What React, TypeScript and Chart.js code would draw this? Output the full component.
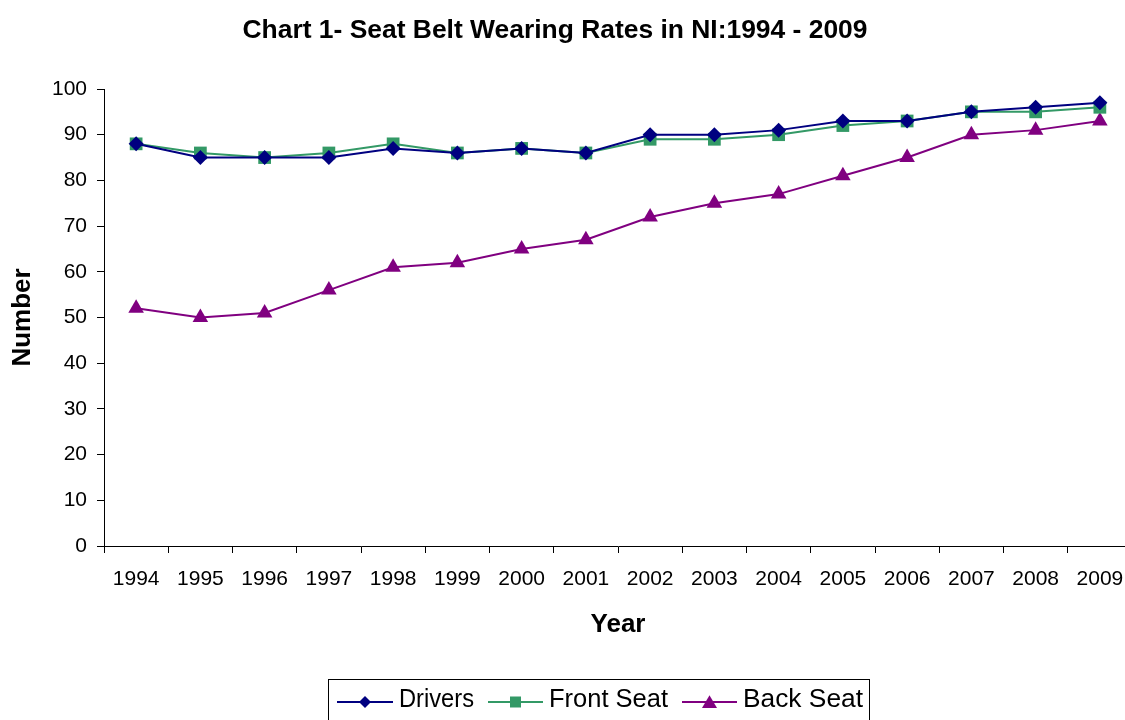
import React, { useEffect, useRef } from "react";
import { Chart, registerables } from "chart.js";

Chart.register(...registerables);

const years = ["1994","1995","1996","1997","1998","1999","2000","2001","2002","2003","2004","2005","2006","2007","2008","2009"];
const drivers = [88, 85, 85, 85, 87, 86, 87, 86, 90, 90, 91, 93, 93, 95, 96, 97];
const frontSeat = [88, 86, 85, 86, 88, 86, 87, 86, 89, 89, 90, 92, 93, 95, 95, 96];
const backSeat = [52, 50, 51, 56, 61, 62, 65, 67, 72, 75, 77, 81, 85, 90, 91, 93];
const yTicks = [0, 10, 20, 30, 40, 50, 60, 70, 80, 90, 100];

const titleText = "Chart 1- Seat Belt Wearing Rates in NI:1994 - 2009";
const FONT = "'Liberation Sans', Arial, sans-serif";

const NAVY = "#000080";
const GREEN = "#339966";
const PURPLE = "#800080";

function drawMarker(ctx: CanvasRenderingContext2D, style: string, x: number, y: number, r: number, color: string) {
  ctx.save();
  ctx.fillStyle = color;
  ctx.beginPath();
  if (style === "rectRot") {
    ctx.moveTo(x, y - r);
    ctx.lineTo(x + r, y);
    ctx.lineTo(x, y + r);
    ctx.lineTo(x - r, y);
  } else if (style === "rect") {
    ctx.rect(x - r, y - r, 2 * r, 2 * r);
  } else {
    ctx.moveTo(x, y - r * 0.9);
    ctx.lineTo(x + r, y + r * 0.8);
    ctx.lineTo(x - r, y + r * 0.8);
  }
  ctx.closePath();
  ctx.fill();
  ctx.restore();
}

function fitText(ctx: CanvasRenderingContext2D, text: string, x: number, y: number, target: number, align: "left" | "center") {
  const w = ctx.measureText(text).width;
  ctx.save();
  ctx.translate(x, y);
  ctx.scale(target / w, 1);
  ctx.textAlign = align;
  ctx.fillText(text, 0, 0);
  ctx.restore();
}

const overlayPlugin = {
  id: "overlay",
  afterDraw(chart: any) {
    const ctx: CanvasRenderingContext2D = chart.ctx;
    ctx.save();
    // Title
    ctx.font = `bold 26px ${FONT}`;
    ctx.fillStyle = "#000";
    ctx.textBaseline = "middle";
    fitText(ctx, titleText, 555, 31, 625, "center");

    // Legend
    ctx.strokeStyle = "#000";
    ctx.lineWidth = 1;
    ctx.strokeRect(328.5, 679.5, 541, 60);
    const items = [
      { label: "Drivers", color: NAVY, style: "rectRot", x0: 337, x1: 393, tx: 399, tw: 75, r: 6 },
      { label: "Front Seat", color: GREEN, style: "rect", x0: 488, x1: 543, tx: 549, tw: 119, r: 5.5 },
      { label: "Back Seat", color: PURPLE, style: "triangle", x0: 682, x1: 737, tx: 743, tw: 120, r: 7.5 },
    ];
    const ly = 702;
    ctx.font = `25px ${FONT}`;
    ctx.textBaseline = "middle";
    for (const it of items) {
      ctx.strokeStyle = it.color;
      ctx.lineWidth = 2;
      ctx.beginPath();
      ctx.moveTo(it.x0, ly);
      ctx.lineTo(it.x1, ly);
      ctx.stroke();
      drawMarker(ctx, it.style, (it.x0 + it.x1) / 2, ly, it.r, it.color);
      ctx.fillStyle = "#000";
      fitText(ctx, it.label, it.tx, 700, it.tw, "left");
    }
    ctx.restore();
  },
};

export default function App() {
  const ref = useRef<HTMLCanvasElement | null>(null);
  useEffect(() => {
    if (!ref.current) return;
    const chart = new Chart(ref.current, {
      type: "line",
      data: {
        labels: years,
        datasets: [
          {
            label: "Drivers",
            data: drivers,
            borderColor: NAVY,
            backgroundColor: NAVY,
            borderWidth: 2,
            pointStyle: "rectRot",
            pointRadius: 7.5,
            pointBorderWidth: 0,
            tension: 0,
          },
          {
            label: "Front Seat",
            data: frontSeat,
            borderColor: GREEN,
            backgroundColor: GREEN,
            borderWidth: 2,
            pointStyle: "rect",
            pointRadius: 9,
            pointBorderWidth: 0,
            tension: 0,
          },
          {
            label: "Back Seat",
            data: backSeat,
            borderColor: PURPLE,
            backgroundColor: PURPLE,
            borderWidth: 2,
            pointStyle: "triangle",
            pointRadius: 9,
            pointBorderWidth: 0,
            tension: 0,
          },
        ],
      },
      options: {
        animation: false,
        responsive: false,
        maintainAspectRatio: false,
        layout: { padding: { top: 89, bottom: 79, left: 0, right: 1 } },
        plugins: {
          legend: { display: false },
          title: { display: false },
          tooltip: { enabled: false },
        },
        scales: {
          x: {
            type: "category",
            offset: true,
            afterFit: (s: any) => { s.height = 95; },
            grid: {
              offset: true,
              drawOnChartArea: false,
              tickLength: 7,
              color: "#000",
              tickColor: "#000",
            },
            border: { color: "#000", width: 1 },
            ticks: {
              color: "#000",
              font: { family: FONT, size: 21 },
              padding: 14,
              maxRotation: 0,
              autoSkip: false,
            },
            title: {
              display: true,
              text: "Year",
              color: "#000",
              font: { family: FONT, size: 26, weight: "bold" },
              padding: { top: 0, bottom: 1 },
            },
          },
          y: {
            min: 0,
            max: 100,
            afterFit: (s: any) => { s.width = 104; },
            afterBuildTicks: (s: any) => { s.ticks = yTicks.map((v) => ({ value: v })); },
            grid: {
              drawOnChartArea: false,
              tickLength: 7,
              color: "#000",
              tickColor: "#000",
            },
            border: { color: "#000", width: 1 },
            ticks: {
              color: "#000",
              font: { family: FONT, size: 21 },
              padding: 10,
            },
            title: {
              display: true,
              text: "Number",
              color: "#000",
              font: { family: FONT, size: 26, weight: "bold" },
              padding: { top: 7, bottom: 0 },
            },
          },
        },
      },
      plugins: [overlayPlugin],
    } as any);
    return () => chart.destroy();
  }, []);
  return (
    <div style={{ position: "fixed", left: 0, top: 0, width: 1125, height: 720, overflow: "hidden", background: "#fff" }}>
      <canvas ref={ref} width={1141} height={720} style={{ display: "block", width: 1141, height: 720 }} />
    </div>
  );
}
